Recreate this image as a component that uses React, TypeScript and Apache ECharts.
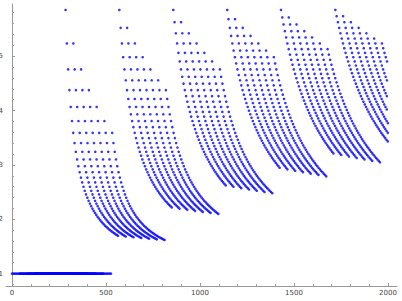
import React, { useEffect, useRef } from "react";
import * as echarts from "echarts";

const clusterTopX = [0, 285, 571, 858, 1145, 1431, 1720]; // x of the top point of each fan (fan 0 is the run at y = 1)
const clusterInvStep = [0, 0.03, 0.015, 0.01, 0.0075, 0.006, 0.005]; // step of 1/(y-1) from one row to the next
const clusterTopInv = 0.2062; // 1/(y-1) of the top row (y = 5.85)
const rowStepX = 6.8; // x shift from one row to the next along a curve
const columnGap = 34.5; // extra x gap between neighbouring curves of a fan
const columnCount = 7; // curves per fan
const rowsPerColumn = 42; // points on each curve
const xMax = 2000;

const xMajorTicks = [0, 500, 1000, 1500, 2000];
const xMinorTicks = [100, 200, 300, 400, 600, 700, 800, 900, 1100, 1200, 1300, 1400, 1600, 1700, 1800, 1900];
const yMajorTicks = [1, 2, 3, 4, 5];
const yMinorTicks = [0.8, 1.2, 1.4, 1.6, 1.8, 2.2, 2.4, 2.6, 2.8, 3.2, 3.4, 3.6, 3.8, 4.2, 4.4, 4.6, 4.8, 5.2, 5.4, 5.6, 5.8];

function buildPoints(): number[][] {
  const pts: number[][] = [];
  clusterTopX.forEach((topX, j) => {
    for (let c = 0; c < columnCount; c++) {
      for (let k = c; k < c + rowsPerColumn; k++) {
        const x = topX + k * rowStepX + c * columnGap;
        if (x > xMax) break;
        const y = j === 0 ? 1 : 1 + 1 / (clusterTopInv + k * clusterInvStep[j]);
        pts.push([x, y]);
      }
    }
  });
  return pts;
}

const axisColor = "#9a9a9a";
const labelColor = "#444";
const fmt = (v: number) => String(v);

export default function App() {
  const ref = useRef<HTMLDivElement>(null);
  useEffect(() => {
    if (!ref.current) return;
    const chart = echarts.init(ref.current, null, { renderer: "svg" });
    const xRange = { min: -32, max: 2048 };
    const yRange = { min: 0.772, max: 5.96 };
    chart.setOption({
      animation: false,
      grid: { left: 6, right: 5, top: 4, bottom: 15, outerBoundsMode: "none", containLabel: false },
      xAxis: [
        {
          type: "value",
          ...xRange,
          position: "bottom",
          axisLine: { onZero: false, lineStyle: { color: axisColor, width: 1 } },
          axisTick: { show: true, inside: true, length: 3, customValues: xMajorTicks, lineStyle: { color: axisColor } },
          axisLabel: { customValues: xMajorTicks, formatter: fmt, fontSize: 7, color: labelColor, margin: 3, fontFamily: "DejaVu Sans" },
          splitLine: { show: false },
        },
        {
          type: "value",
          ...xRange,
          position: "bottom",
          axisLine: { show: false, onZero: false },
          axisTick: { show: true, inside: true, length: 2, customValues: xMinorTicks, lineStyle: { color: axisColor } },
          axisLabel: { show: false },
          splitLine: { show: false },
        },
      ],
      yAxis: [
        {
          type: "value",
          ...yRange,
          position: "left",
          axisLine: { show: true, onZero: true, onZeroAxisIndex: 0, lineStyle: { color: axisColor, width: 1 } },
          axisTick: { show: true, inside: true, length: 3, customValues: yMajorTicks, lineStyle: { color: axisColor } },
          axisLabel: { customValues: yMajorTicks, formatter: fmt, fontSize: 7, color: labelColor, margin: 3, fontFamily: "DejaVu Sans" },
          splitLine: { show: false },
        },
        {
          type: "value",
          ...yRange,
          position: "left",
          axisLine: { show: false, onZero: true, onZeroAxisIndex: 0 },
          axisTick: { show: true, inside: true, length: 2, customValues: yMinorTicks, lineStyle: { color: axisColor } },
          axisLabel: { show: false },
          splitLine: { show: false },
        },
      ],
      series: [
        {
          type: "scatter",
          xAxisIndex: 0,
          yAxisIndex: 0,
          data: buildPoints(),
          symbol: "circle",
          symbolSize: 2.6,
          itemStyle: { color: "#0000ff" },
          silent: true,
        },
      ],
    });
    return () => chart.dispose();
  }, []);
  return <div ref={ref} style={{ position: "fixed", left: 0, top: 0, width: 402, height: 301, background: "#fff" }} />;
}
